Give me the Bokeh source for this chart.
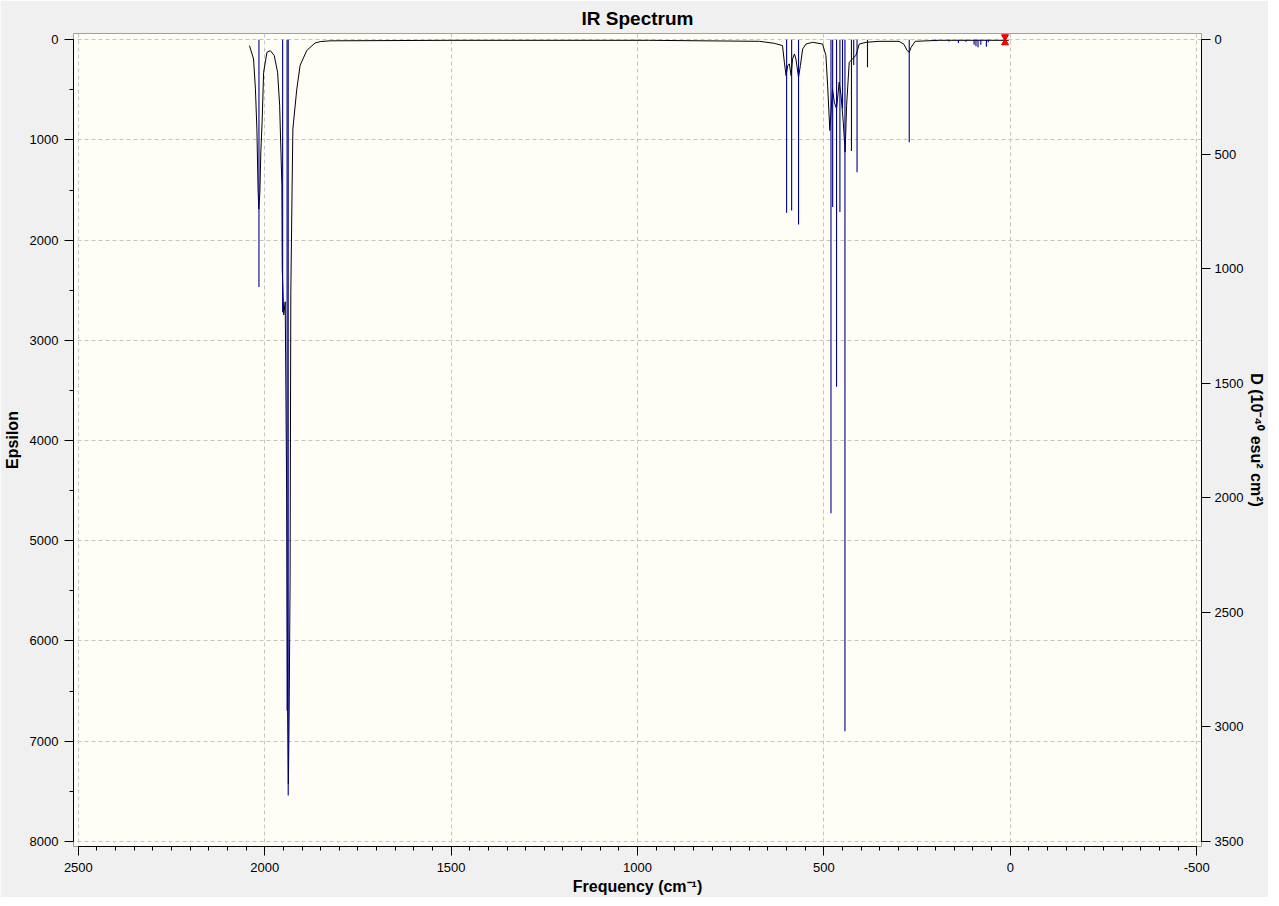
from bokeh.plotting import figure
from bokeh.models import Range1d, LinearAxis, FixedTicker, ColumnDataSource
from bokeh.embed import file_html
from bokeh.resources import INLINE

# ---------------- data ----------------
# broadened spectrum (cm^-1, epsilon)
curve_freq = [2041, 2030, 2025, 2021, 2018, 2016, 2013, 2010.5, 2007, 2003, 1994, 1985,
              1974.5, 1965.5, 1960, 1954, 1953, 1949, 1945, 1941, 1938.5, 1936.5, 1934.5,
              1932, 1930, 1926.5, 1924.5, 1914, 1905, 1887, 1865, 1851, 1825, 1500, 970,
              673, 633, 611, 606, 601.5, 597, 592.5, 588, 584, 579, 575, 568, 563, 557,
              548, 530, 503.5, 494.5, 490, 484, 477, 472, 466, 459, 454, 448, 443, 439,
              432, 423, 414, 405, 387, 352, 298, 285, 277, 271, 266, 255, 191, 4]
curve_eps = [58, 191, 490, 889, 1480, 1690, 1520, 1120, 822, 324, 125, 108,
             157, 324, 653, 1450, 2290, 2745, 2615, 4610, 6700, 7430, 6700,
             5400, 2520, 1450, 890, 493, 254, 105, 32, 18, 10, 5, 5,
             15, 35, 58, 224, 357, 257, 241, 357, 191, 141, 191, 374, 257, 92,
             42, 25, 42, 157, 456, 905, 490, 623, 689, 423, 553, 822, 1121, 653,
             224, 191, 154, 42, 25, 15, 15, 45, 105, 125, 75, 15, 5, 5]

# stick spectrum (cm^-1, D in 10^-40 esu^2 cm^2)
stick_freq = [2015.5, 1952, 1940, 1937, 600, 586.5, 568, 481, 476.5, 466, 457, 450,
              443.5, 426, 420, 411, 383, 271, 202, 199.5, 164, 139, 119, 97, 92, 86.5,
              79, 64, 59]
stick_D = [1079, 1190, 2930, 3300, 755, 745, 806, 2068, 730, 1515, 752, 300,
           3019, 486, 110, 578, 120, 447, 4, 6, 7, 14, 8, 22, 28, 33,
           22, 30, 11]

marker_freq = [14]
marker_eps = [0]

x_ticks = [2500, 2000, 1500, 1000, 500, 0, -500]
x_tick_labels = ["2500", "2000", "1500", "1000", "500", "0", "-500"]
eps_ticks = [0, 1000, 2000, 3000, 4000, 5000, 6000, 7000, 8000]
D_ticks = [0, 500, 1000, 1500, 2000, 2500, 3000, 3500]

EPS_TO_D = 3500 / 8000

# ---------------- figure ----------------
FONT = "Liberation Sans"
y_lo, y_hi = 8052, -63

p = figure(frame_width=1128, frame_height=813, output_backend="svg", toolbar_location=None,
           x_range=Range1d(2513, -513), y_range=Range1d(y_lo, y_hi),
           min_border_left=73, min_border_right=60, min_border_top=23, min_border_bottom=48,
           background_fill_color="#FEFEF6", border_fill_color="#F0F0F0",
           outline_line_color="#A0A0A0", title="IR Spectrum")
p.extra_y_ranges = {"d": Range1d(y_lo * EPS_TO_D, y_hi * EPS_TO_D)}

p.title.align = "center"
p.title.text_font = FONT
p.title.text_font_size = "19px"
p.title.text_font_style = "bold"
p.title.text_color = "black"

# axes
xa = p.xaxis[0]
xa.ticker = FixedTicker(ticks=x_ticks, minor_ticks=list(range(-500, 2501, 50)))
xa.major_label_overrides = {t: l for t, l in zip(x_ticks, x_tick_labels)}
xa.axis_label = "Frequency (cm\u207b\u00b9)"
xa.bounds = (-500, 2500)

ya = p.yaxis[0]
ya.ticker = FixedTicker(ticks=eps_ticks, minor_ticks=list(range(500, 8000, 1000)))
ya.axis_label = "Epsilon"
ya.bounds = (0, 8000)

ra = LinearAxis(y_range_name="d", ticker=FixedTicker(ticks=D_ticks, minor_ticks=[]),
                axis_label="D (10\u207b\u2074\u2070 esu\u00b2 cm\u00b2)", bounds=(0, 3500))
p.add_layout(ra, "right")

for ax in (xa, ya, ra):
    ax.axis_line_color = "black"
    ax.major_tick_line_color = "black"
    ax.minor_tick_line_color = "black"
    ax.major_tick_in = 0
    ax.major_tick_out = 9
    ax.minor_tick_in = 0
    ax.minor_tick_out = 4
    ax.major_label_text_font = FONT
    ax.major_label_text_font_size = "13px"
    ax.major_label_text_color = "black"
    ax.axis_label_text_font = FONT
    ax.axis_label_text_font_size = "16px"
    ax.axis_label_text_font_style = "bold"
    ax.axis_label_text_color = "black"

ya.major_label_standoff = 6
ya.axis_label_standoff = 6
xa.major_label_standoff = 7
xa.axis_label_standoff = 3
ra.major_label_standoff = 4
ra.axis_label_standoff = 2

# grid
for g in (p.xgrid[0], p.ygrid[0]):
    g.grid_line_color = "#C4C4C4"
    g.grid_line_dash = "4 3"
    g.grid_line_width = 1

# spectrum curve
p.line(curve_freq, curve_eps, line_color="black", line_width=1)

# sticks
src = ColumnDataSource(dict(f=stick_freq, d=stick_D, z=[0] * len(stick_freq)))
p.segment(x0="f", y0="z", x1="f", y1="d", source=src, y_range_name="d",
          line_color="#00008C", line_width=1.1)

# red hourglass marker
p.scatter(marker_freq, [e - 30 for e in marker_eps], marker="inverted_triangle",
          size=7, fill_color="#FF0000", line_color="#CC0000")
p.scatter(marker_freq, [e + 30 for e in marker_eps], marker="triangle",
          size=7, fill_color="#FF0000", line_color="#CC0000")

open("out.html", "w").write(file_html(p, INLINE))
